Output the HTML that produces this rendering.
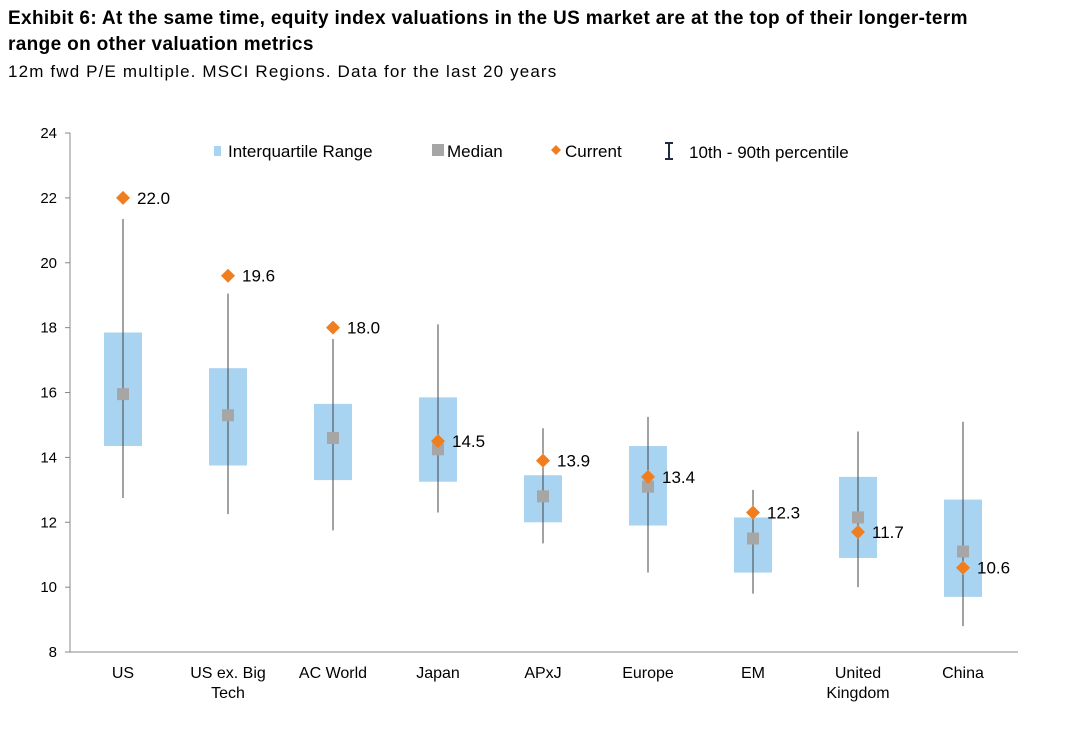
<!DOCTYPE html>
<html><head><meta charset="utf-8"><style>
body{margin:0;background:#fff;width:1074px;height:734px;overflow:hidden;font-family:"Liberation Sans",Arial,sans-serif}
.t{position:absolute;left:8px;top:6px;font-size:19px;font-weight:bold;line-height:26px;color:#000;letter-spacing:0.35px;white-space:nowrap}
.s{position:absolute;left:8px;top:62px;font-size:17px;color:#000;letter-spacing:1.15px;white-space:nowrap}
</style></head><body>
<div class="t">Exhibit 6: At the same time, equity index valuations in the US market are at the top of their longer-term<br>range on other valuation metrics</div>
<div class="s">12m fwd P/E multiple. MSCI Regions. Data for the last 20 years</div>
<svg id="c" width="1074" height="734" style="position:absolute;left:0;top:0"></svg>
<script>
const categories=["US","US ex. Big|Tech","AC World","Japan","APxJ","Europe","EM","United|Kingdom","China"];
const p10=[12.75,12.25,11.75,12.3,11.35,10.45,9.8,10.0,8.8];
const p90=[21.35,19.05,17.65,18.1,14.9,15.25,13.0,14.8,15.1];
const q1=[14.35,13.75,13.3,13.25,12.0,11.9,10.45,10.9,9.7];
const q3=[17.85,16.75,15.65,15.85,13.45,14.35,12.15,13.4,12.7];
const median=[15.95,15.3,14.6,14.25,12.8,13.1,11.5,12.15,11.1];
const current=[22.0,19.6,18.0,14.5,13.9,13.4,12.3,11.7,10.6];
const yTicks=[8,10,12,14,16,18,20,22,24];
const NS="http://www.w3.org/2000/svg",svg=document.getElementById('c');
const y=v=>133+(24-v)*32.44, x=i=>123+i*105;
function mk(t,a,p){const e=document.createElementNS(NS,t);for(const k in a)e.setAttribute(k,a[k]);(p||svg).appendChild(e);return e;}
let e=mk('line',{x1:70,y1:133,x2:70,y2:652,stroke:'#888'});

e=mk('line',{x1:70,y1:652,x2:1018,y2:652,stroke:'#888'});

yTicks.forEach(v=>{
 mk('line',{x1:65,y1:y(v),x2:70,y2:y(v),stroke:'#888'});
 const t=mk('text',{x:57,y:y(v)+5,'text-anchor':'end','font-size':15});t.textContent=v;
 
});
categories.forEach((c,i)=>{
 const cx=x(i);
 let r=mk('rect',{x:cx-19,y:y(q3[i]),width:38,height:y(q1[i])-y(q3[i]),fill:'#a9d4f1'});
 
 let w=mk('line',{x1:cx,y1:y(p90[i]),x2:cx,y2:y(p10[i]),stroke:'#444','stroke-width':1});
 
 let m=mk('rect',{x:cx-6,y:y(median[i])-6,width:12,height:12,fill:'#a6a6a6'});
 
 const cy=y(current[i]);
 let d=mk('polygon',{points:`${cx},${cy-7} ${cx+7},${cy} ${cx},${cy+7} ${cx-7},${cy}`,fill:'#f07d1e'});
 
 let l=mk('text',{x:cx+14,y:cy+6,'font-size':17});l.textContent=current[i].toFixed(1);
 
 const parts=c.split('|');
 parts.forEach((p,j)=>{let t=mk('text',{x:cx,y:678+j*20,'text-anchor':'middle','font-size':16});t.textContent=p;
 });
});
const lg=mk('g',{});
mk('rect',{x:214,y:146,width:7,height:10,fill:'#a9d4f1'},lg);
let t=mk('text',{x:228,y:157,'font-size':17},lg);t.textContent='Interquartile Range';
mk('rect',{x:432,y:144,width:12,height:12,fill:'#a6a6a6'},lg);
t=mk('text',{x:447,y:157,'font-size':17},lg);t.textContent='Median';
mk('polygon',{points:'556,145 561,150 556,155 551,150',fill:'#f07d1e'},lg);
t=mk('text',{x:565,y:157,'font-size':17},lg);t.textContent='Current';
mk('line',{x1:669,y1:143,x2:669,y2:159,stroke:'#1f2a44','stroke-width':2},lg);
mk('line',{x1:665,y1:143,x2:673,y2:143,stroke:'#1f2a44','stroke-width':2},lg);
mk('line',{x1:665,y1:159,x2:673,y2:159,stroke:'#1f2a44','stroke-width':2},lg);
t=mk('text',{x:689,y:158,'font-size':17},lg);t.textContent='10th - 90th percentile';
</script>
</body></html>
